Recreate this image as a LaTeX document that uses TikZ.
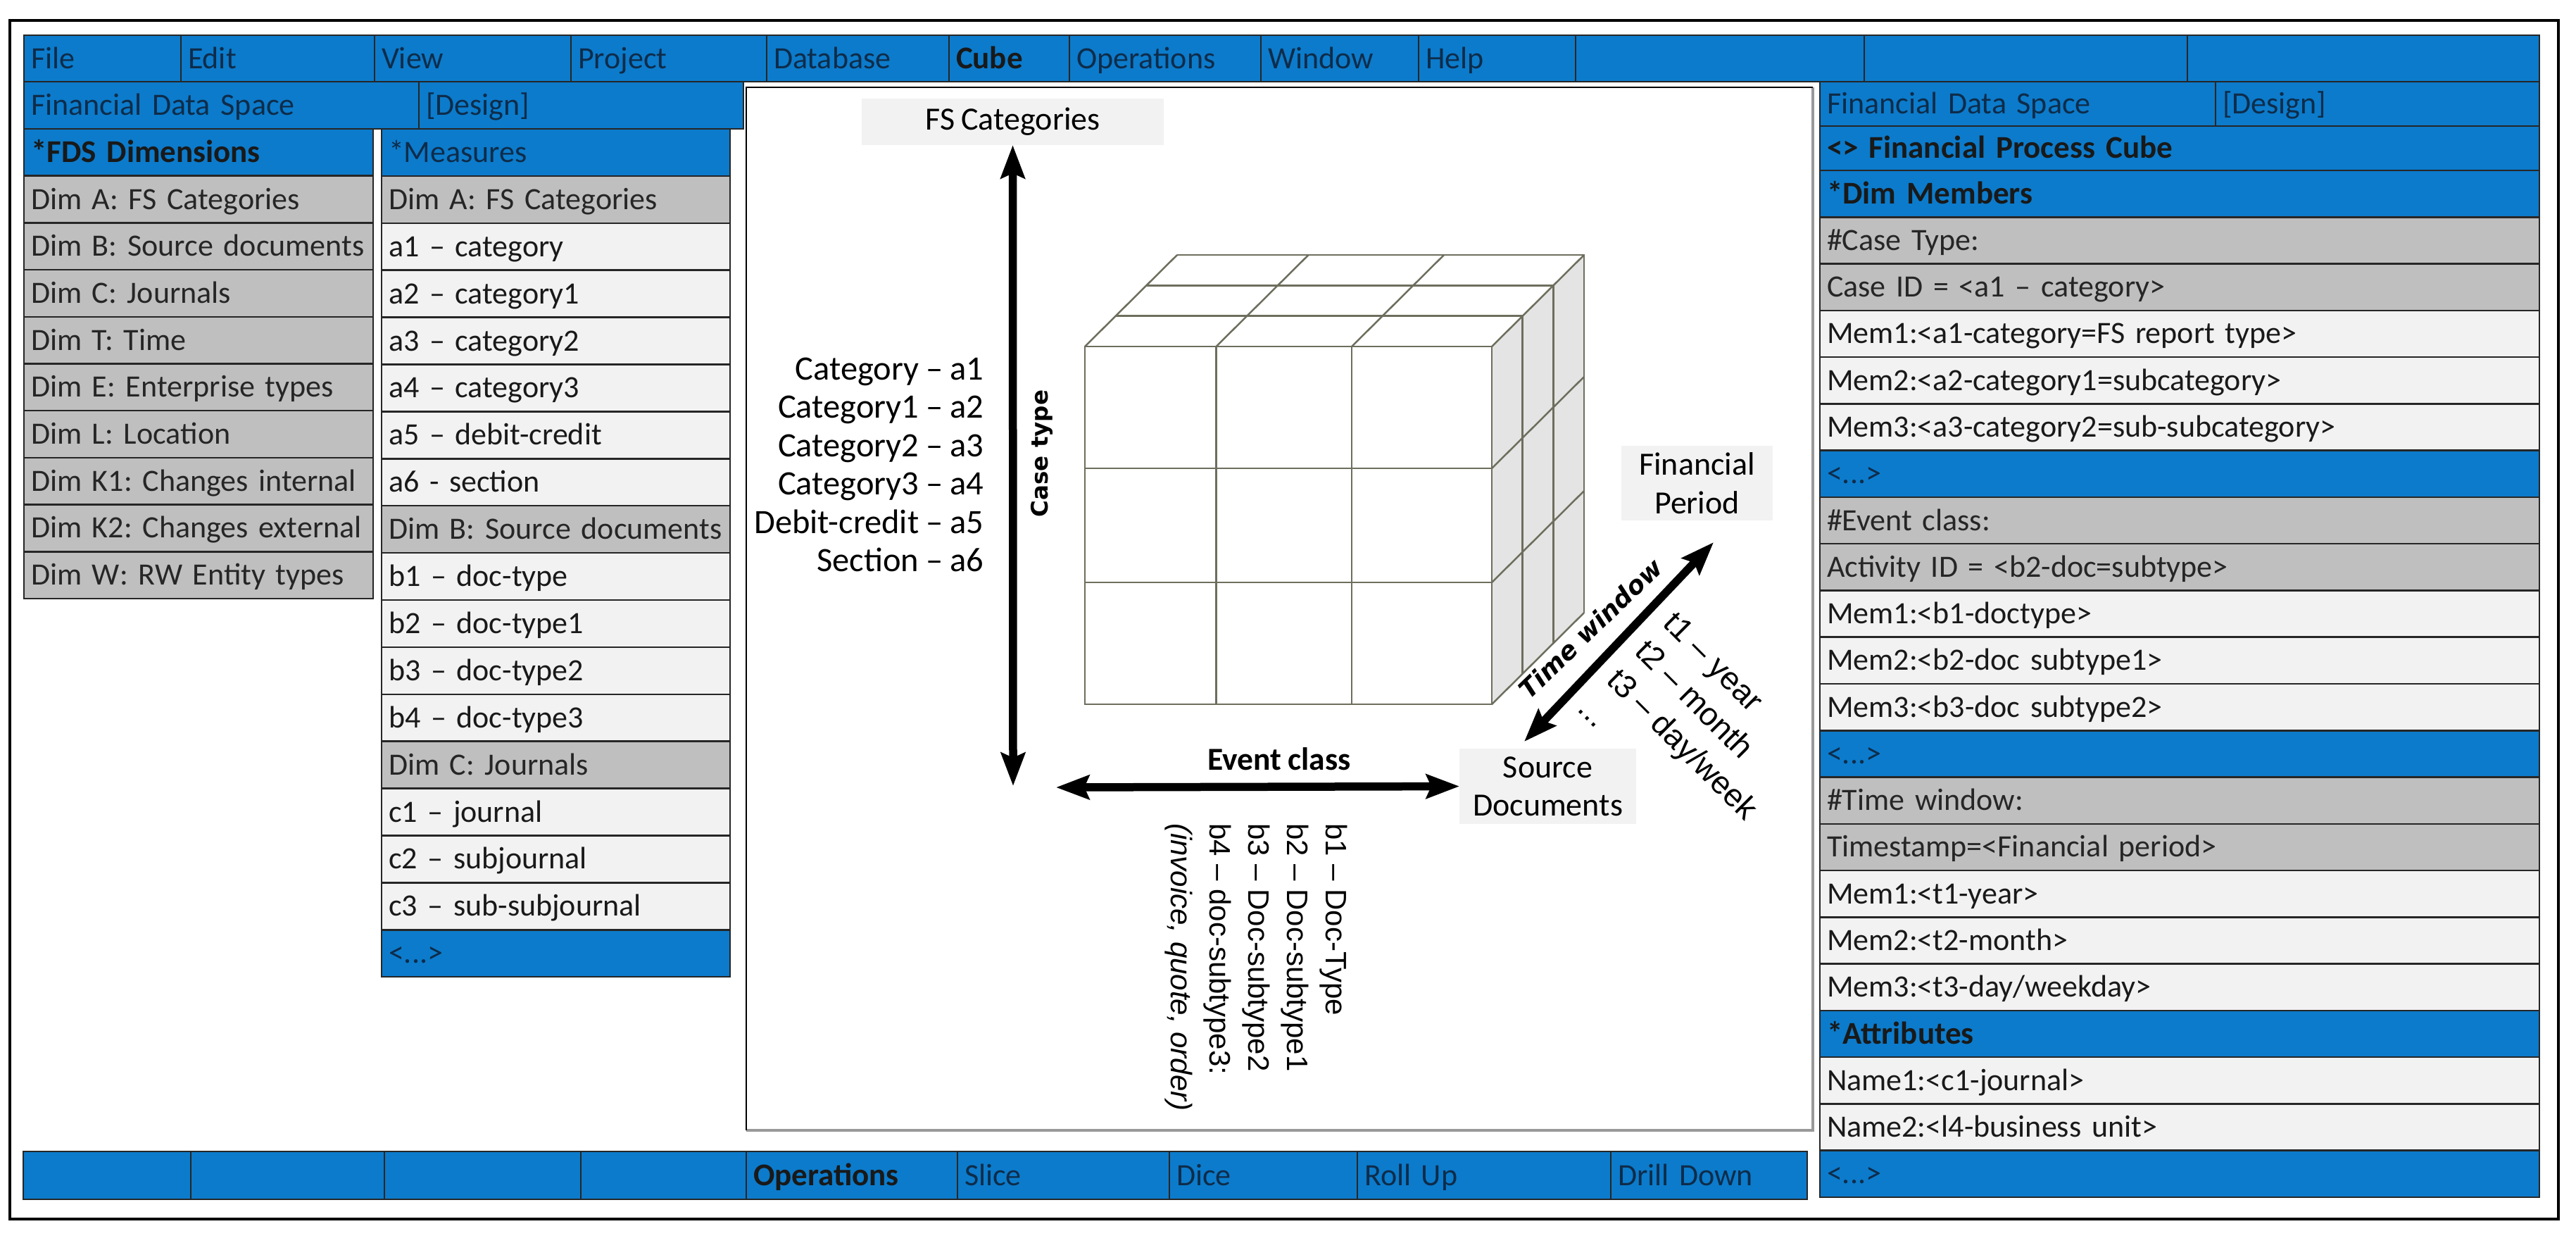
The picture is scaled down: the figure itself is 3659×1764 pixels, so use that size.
\documentclass[tikz,border=0pt]{standalone}
\usepackage{fontspec}
\setmainfont{Carlito}[WordSpace=0.9]
\newfontfamily\arialfont{Liberation Sans}
\newfontfamily\widefont{DejaVu Sans}
\usetikzlibrary{arrows.meta}
\frenchspacing
\definecolor{barblue}{HTML}{0C7BCB}
\definecolor{bartext}{HTML}{0E2C4A}
\definecolor{rowgrey}{HTML}{BFBFBF}
\definecolor{rowlight}{HTML}{F2F2F2}
\definecolor{cubeline}{HTML}{6E6E5E}
\definecolor{cubeside}{HTML}{E4E4E4}
\tikzset{
	boxw/.style={text width=(#1)*0.2pt-4pt},
	boxh/.style={minimum height=#1*0.2pt},
	basebox/.style={draw=black!85, line width=0.5pt, anchor=north west, outer sep=0pt, inner xsep=2pt, inner ysep=0pt,
		align=left, text height=7.6pt, text depth=2pt, font=\fontsize{8.8}{10.9}\selectfont},
	bluecell/.style={basebox, fill=barblue, text=bartext},
	bluebold/.style={bluecell, text=black!90, font=\fontsize{9}{10.9}\selectfont\bfseries},
	greycell/.style={basebox, fill=rowgrey, text=black!85},
	lightcell/.style={basebox, fill=rowlight, text=black!90},
	sidelabel/.style={fill=rowlight, inner sep=0pt, outer sep=0pt, align=center, minimum width=#1*0.2pt, font=\fontsize{9.2}{10.9}\selectfont},
	bigarrow/.style={<->, line width=2.3pt, >={Stealth[length=9.4pt,width=6.8pt,inset=1.4pt]}},
	cubegrid/.style={draw=cubeline, line width=0.5pt},
}
\begin{document}
\begin{tikzpicture}[x=0.2pt, y=-0.2pt, line join=miter]
	\useasboundingbox (0,0) rectangle (3659,1764);
	\draw [line width=0.8pt] (14,29) rectangle (3634,1731);
	% top menu
	\foreach \a/\b/\s/\t [count=\i] in {34/257/bluecell/File,257/532/bluecell/Edit,532/811/bluecell/View,811/1089/bluecell/Project,
		1089/1348/bluecell/Database,1348/1519/bluebold/Cube,1519/1791/bluecell/Operations,1791/2015/bluecell/Window,
		2015/2238/bluecell/Help,2238/2648/bluecell/{},2648/3107/bluecell/{},3107/3607/bluecell/{}}
		\node [\s, boxw=\b-\a, boxh=66] (menu\i) at (\a,50) {\t};
	% window of the cube
	\fill [white] (1060,124) rectangle (2575,1605);
	\draw [line width=0.9pt, black!40] (2575,124) -- (2575,1605) -- (1060,1605);
	\draw [line width=0.4pt] (2575,124) -- (1060,124) -- (1060,1605);
	% left side
	\node [bluecell, boxw=561, boxh=67] (space) at (34,116) {Financial Data Space};
	\node [bluecell, boxw=461, boxh=67] (design) at (595,116) {[Design]};
	\foreach \s/\t [count=\i from 0] in {bluebold/{*FDS Dimensions},greycell/{Dim A: FS Categories},greycell/{Dim B: Source documents},
		greycell/{Dim C: Journals},greycell/{Dim T: Time},greycell/{Dim E: Enterprise types},greycell/{Dim L: Location},
		greycell/{Dim K1: Changes internal},greycell/{Dim K2: Changes external},greycell/{Dim W: RW Entity types}}
		\node [\s, boxw=496, boxh=66.7] (dim\i) at (34,{183+\i*66.7}) {\t};
	\foreach \s/\t [count=\i from 0] in {bluecell/{*Measures},greycell/{Dim A: FS Categories},lightcell/{a1 – category},lightcell/{a2 – category1},
		lightcell/{a3 – category2},lightcell/{a4 – category3},lightcell/{a5 – debit-credit},lightcell/{a6 - section},
		greycell/{Dim B: Source documents},lightcell/{b1 – doc-type},lightcell/{b2 – doc-type1},lightcell/{b3 – doc-type2},lightcell/{b4 – doc-type3},
		greycell/{Dim C: Journals},lightcell/{c1 – journal},lightcell/{c2 – subjournal},lightcell/{c3 – sub-subjournal},bluecell/{<...>}}
		\node [\s, boxw=495, boxh=66.9] (meas\i) at (542,{183+\i*66.9}) {\t};
	% right side
	\node [bluecell, boxw=562, boxh=63] (spaceright) at (2585,116) {Financial Data Space};
	\node [bluecell, boxw=460, boxh=63] (designright) at (3147,116) {[Design]};
	\node [bluebold, boxw=1022, boxh=63] (cubename) at (2585,179) {<> Financial Process Cube};
	\foreach \s/\t [count=\i from 0] in {bluebold/{*Dim Members},greycell/{\#Case Type:},greycell/{Case ID = <a1 – category>},
		lightcell/{Mem1:<a1-category=FS report type>},lightcell/{Mem2:<a2-category1=subcategory>},lightcell/{Mem3:<a3-category2=sub-subcategory>},bluecell/{<...>},
		greycell/{\#Event class:},greycell/{Activity ID = <b2-doc=subtype>},lightcell/{Mem1:<b1-doctype>},lightcell/{Mem2:<b2-doc subtype1>},lightcell/{Mem3:<b3-doc subtype2>},bluecell/{<...>},
		greycell/{\#Time window:},greycell/{Timestamp=<Financial period>},lightcell/{Mem1:<t1-year>},lightcell/{Mem2:<t2-month>},lightcell/{Mem3:<t3-day/weekday>},
		bluebold/{*Attributes},lightcell/{Name1:<c1-journal>},lightcell/{Name2:<l4-business unit>},bluecell/{<...>}}
		\node [\s, boxw=1022, boxh=66.3] (mem\i) at (2585,{242+\i*66.27}) {\t};
	% bottom bar
	\foreach \a/\b/\s/\t [count=\i] in {33/271/bluecell/{},271/546/bluecell/{},546/825/bluecell/{},825/1060/bluecell/{},1060/1360/bluebold/Operations,
		1360/1661/bluecell/Slice,1661/1928/bluecell/Dice,1928/2288/bluecell/Roll Up,2288/2567/bluecell/Drill Down}
		\node [\s, boxw=\b-\a, boxh=68] (oper\i) at (\a,1635) {\t};
	% cube
	\fill [cubeside] (2119,492) -- (2250,362) -- (2250,869) -- (2119,1000) -- cycle;
	\draw [cubegrid] (1541,492) rectangle (2119,1000);
	\foreach \x in {1727.5,1920} \draw [cubegrid] (\x,492) -- (\x,1000);
	\foreach \y in {665,827} \draw [cubegrid] (1541,\y) -- (2119,\y);
	\foreach \x in {1541,1727.5,1920,2119} \draw [cubegrid] (\x,492) -- ++(131,-130);
	\foreach \k in {1,2,3} {
		\draw [cubegrid] ({1541+\k*43.67},{492-\k*43.33}) -- ({2119+\k*43.67},{492-\k*43.33}) -- ({2119+\k*43.67},{1000-\k*43.33});
	}
	\foreach \y in {665,827,1000} \draw [cubegrid] (2119,\y) -- ++(131,-130);
	% labels round the cube
	\node [sidelabel=429, minimum height=13.2pt] (fscat) at (1438.5,173) {FS Categories};
	\node [sidelabel=215, minimum height=21.2pt] (finperiod) at (2410.5,686) {Financial\\Period};
	\node [sidelabel=251, minimum height=21.4pt] (srcdoc) at (2198.5,1116.5) {Source\\Documents};
	\coordinate (caseend) at (1439,1116);
	\coordinate (eventend) at (1500,1118);
	\coordinate (timeup) at (2434,770);
	\coordinate (timedown) at (2165,1053);
	\draw [bigarrow] (fscat.south) -- (caseend);
	\draw [bigarrow] (eventend) -- (srcdoc.west);
	\draw [bigarrow] (timeup) -- (timedown);
	\node [rotate=90, font=\widefont\fontsize{6.5}{8}\selectfont\bfseries] (casetype) at (1480,644) {Case type};
	\node [font=\fontsize{9.1}{10.9}\selectfont\bfseries] (eventclass) at (1817,1078) {Event class};
	\node [rotate=44, font=\widefont\fontsize{7.2}{9}\selectfont\bfseries\itshape] (timewin) at (2259,892) {Time window};
	\node [anchor=east, inner sep=0pt, align=right, font=\fontsize{9.7}{10.9}\selectfont] (catlabels) at (1398,660)
		{Category – a1\\Category1 – a2\\Category2 – a3\\Category3 – a4\\Debit-credit – a5\\Section – a6};
	\node [anchor=north west, rotate=-90, inner sep=0pt, align=left, font=\arialfont\fontsize{8.4}{11}\selectfont] (doclabels) at (1915,1168)
		{b1 – Doc-Type\\b2 – Doc-subtype1\\b3 – Doc-subtype2\\b4 – doc-subtype3:\\\textit{(invoice, quote, order)}};
	\node [anchor=north west, rotate=-45, inner sep=0pt, align=left, font=\arialfont\fontsize{9.1}{11.4}\selectfont] (timelabels) at (2383,864)
		{t1 – year\\t2 – month\\t3 – day/week\\...};
\end{tikzpicture}
\end{document}
